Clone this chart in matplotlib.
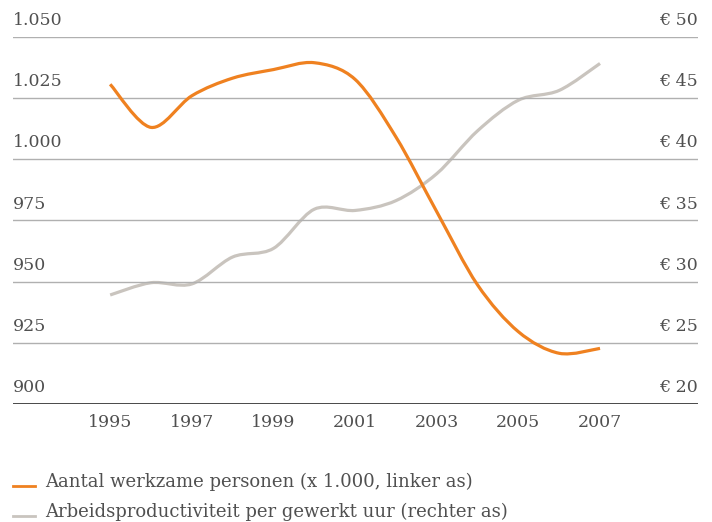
import matplotlib
matplotlib.use("Agg")
import matplotlib.pyplot as plt
import numpy as np
from matplotlib.lines import Line2D
from matplotlib.path import Path
from matplotlib.patches import PathPatch

years = [1995, 1996, 1997, 1998, 1999, 2000, 2001, 2002, 2003, 2004, 2005, 2006, 2007]
werkzame = [1030.5, 1012.9, 1025.8, 1033.0, 1036.5, 1039.3, 1032.5, 1009.0, 978.5, 948.6, 929.5, 920.7, 922.7]
productiviteit = [28.9, 29.9, 29.8, 32.0, 32.7, 35.9, 35.8, 36.6, 38.8, 42.3, 44.8, 45.6, 47.8]

left_ticks = [900, 925, 950, 975, 1000, 1025, 1050]
left_labels = ["900", "925", "950", "975", "1.000", "1.025", "1.050"]
right_ticks = [20, 25, 30, 35, 40, 45, 50]
right_labels = ["€ 20", "€ 25", "€ 30", "€ 35", "€ 40", "€ 45", "€ 50"]
x_ticks = [1995, 1997, 1999, 2001, 2003, 2005, 2007]
legend_labels = ["Aantal werkzame personen (x 1.000, linker as)",
                 "Arbeidsproductiviteit per gewerkt uur (rechter as)"]

ORANGE = "#EF8120"
GRAY = "#C9C4BE"
TXT = "#505050"
FONT = "DejaVu Serif"


def smooth_path(x, y, k=0.16):
    """Bezier path through the data points (Catmull-Rom style tangents)."""
    x = np.asarray(x, float)
    y = np.asarray(y, float)
    n = len(x)
    verts = [(x[0], y[0])]
    codes = [Path.MOVETO]
    for i in range(n - 1):
        i0 = max(i - 1, 0)
        i3 = min(i + 2, n - 1)
        c1 = (x[i] + (x[i + 1] - x[i0]) * k, y[i] + (y[i + 1] - y[i0]) * k)
        c2 = (x[i + 1] - (x[i3] - x[i]) * k, y[i + 1] - (y[i3] - y[i]) * k)
        verts += [c1, c2, (x[i + 1], y[i + 1])]
        codes += [Path.CURVE4] * 3
    return Path(verts, codes)


W, H = 712, 522
fig = plt.figure(figsize=(W / 100, H / 100), dpi=100)
ax_l, ax_r, ax_t, ax_b = 13, 698, 36.5, 404
ax = fig.add_axes([ax_l / W, 1 - ax_b / H, (ax_r - ax_l) / W, (ax_b - ax_t) / H])
ax.set_xlim(1992.62, 2009.4)
ax.set_ylim(900, 1050)
ax2 = ax.twinx()
ax2.set_ylim(20, 50)

for a in (ax, ax2):
    for s in a.spines.values():
        s.set_visible(False)
    a.tick_params(left=False, right=False, bottom=False, top=False,
                  labelleft=False, labelright=False)

# gridlines
for t in left_ticks[1:]:
    ax.axhline(t, color="#b0b0b0", lw=1.0, zorder=1)
ax.axhline(900, color="#3a3a3a", lw=1.3, zorder=1)

# left labels
for t, lab in zip(left_ticks, left_labels):
    ax.annotate(lab, xy=(0, t), xycoords=("axes fraction", "data"),
                xytext=(0, 5.5), textcoords="offset points",
                ha="left", va="bottom", fontsize=12.5, color=TXT, family=FONT)
# right labels
for t, lab in zip(right_ticks, right_labels):
    ax2.annotate(lab, xy=(1, t), xycoords=("axes fraction", "data"),
                 xytext=(0, 5.5), textcoords="offset points",
                 ha="right", va="bottom", fontsize=12.5, color=TXT, family=FONT)

ax.set_xticks(x_ticks)
ax.set_xticklabels([str(x) for x in x_ticks], fontsize=12.5, color=TXT, family=FONT)
ax.tick_params(axis="x", pad=4, labelbottom=True)

ax2.add_patch(PathPatch(smooth_path(years, productiviteit), facecolor="none",
                        edgecolor=GRAY, lw=2.3, capstyle="butt", zorder=3))
ax.add_patch(PathPatch(smooth_path(years, werkzame), facecolor="none",
                       edgecolor=ORANGE, lw=2.3, capstyle="butt", zorder=4))
ax.set_zorder(ax2.get_zorder() + 1)
ax.patch.set_visible(False)

# legend
for i, (lab, col) in enumerate(zip(legend_labels, [ORANGE, GRAY])):
    yb = 487 + i * 30
    fig.add_artist(Line2D([13 / W, 35 / W], [1 - (yb - 1) / H] * 2, color=col, lw=2.0))
    fig.text(45 / W, 1 - yb / H, lab, fontsize=13, color=TXT, family=FONT,
             ha="left", va="baseline")

fig.savefig("out.png", dpi=100, facecolor="white")
